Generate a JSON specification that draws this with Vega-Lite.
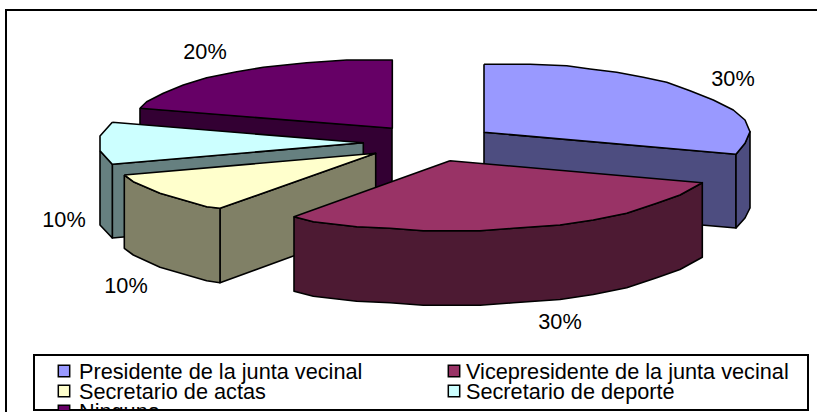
{
"$schema":"https://vega.github.io/schema/vega-lite/v6.json",
"width":817,"height":410,"padding":{"left":0,"top":0,"right":0,"bottom":2},"autosize":{"type":"none"},
"background":"white","config":{"view":{"stroke":null}},
"datasets":{
"faces":[
{"face":"N side","tone":"N side","i":1,"x":140,"y":108},{"face":"N side","tone":"N side","i":2,"x":392,"y":128},{"face":"N side","tone":"N side","i":3,"x":392,"y":201},{"face":"N side","tone":"N side","i":4,"x":140,"y":181},{"face":"N side","tone":"N side","i":5,"x":140,"y":108},
{"face":"N top","tone":"N top","i":1,"x":140,"y":108.3},{"face":"N top","tone":"N top","i":2,"x":146.7,"y":101.7},{"face":"N top","tone":"N top","i":3,"x":163.3,"y":93.3},{"face":"N top","tone":"N top","i":4,"x":183.3,"y":85},{"face":"N top","tone":"N top","i":5,"x":206.7,"y":77.7},{"face":"N top","tone":"N top","i":6,"x":236.7,"y":71.7},{"face":"N top","tone":"N top","i":7,"x":263.3,"y":67.3},{"face":"N top","tone":"N top","i":8,"x":306.7,"y":62.7},{"face":"N top","tone":"N top","i":9,"x":346.7,"y":60},{"face":"N top","tone":"N top","i":10,"x":392.3,"y":60},{"face":"N top","tone":"N top","i":11,"x":392.3,"y":128.3},{"face":"N top","tone":"N top","i":12,"x":140,"y":108.3},
{"face":"P front","tone":"P side","i":1,"x":484,"y":132.3},{"face":"P front","tone":"P side","i":2,"x":736,"y":154.3},{"face":"P front","tone":"P side","i":3,"x":736,"y":228},{"face":"P front","tone":"P side","i":4,"x":484,"y":206},{"face":"P front","tone":"P side","i":5,"x":484,"y":132.3},
{"face":"P right","tone":"P side","i":1,"x":736,"y":154.3},{"face":"P right","tone":"P side","i":2,"x":745,"y":143.3},{"face":"P right","tone":"P side","i":3,"x":750,"y":131.7},{"face":"P right","tone":"P side","i":4,"x":750,"y":208},{"face":"P right","tone":"P side","i":5,"x":745,"y":218},{"face":"P right","tone":"P side","i":6,"x":736,"y":228},{"face":"P right","tone":"P side","i":7,"x":736,"y":154.3},
{"face":"P top","tone":"P top","i":1,"x":484,"y":64.3},{"face":"P top","tone":"P top","i":2,"x":530,"y":64.3},{"face":"P top","tone":"P top","i":3,"x":566.7,"y":65.7},{"face":"P top","tone":"P top","i":4,"x":590,"y":69},{"face":"P top","tone":"P top","i":5,"x":616.7,"y":72.3},{"face":"P top","tone":"P top","i":6,"x":643.3,"y":77.3},{"face":"P top","tone":"P top","i":7,"x":666.7,"y":82.3},{"face":"P top","tone":"P top","i":8,"x":690,"y":90.7},{"face":"P top","tone":"P top","i":9,"x":713.3,"y":100},{"face":"P top","tone":"P top","i":10,"x":733.3,"y":110},{"face":"P top","tone":"P top","i":11,"x":745,"y":120},{"face":"P top","tone":"P top","i":12,"x":750,"y":131.7},{"face":"P top","tone":"P top","i":13,"x":745,"y":143.3},{"face":"P top","tone":"P top","i":14,"x":736,"y":154.3},{"face":"P top","tone":"P top","i":15,"x":484,"y":132.3},{"face":"P top","tone":"P top","i":16,"x":484,"y":64.3},
{"face":"D front","tone":"D side","i":1,"x":112.3,"y":164.3},{"face":"D front","tone":"D side","i":2,"x":363.3,"y":142.7},{"face":"D front","tone":"D side","i":3,"x":363.3,"y":215},{"face":"D front","tone":"D side","i":4,"x":112.3,"y":238},{"face":"D front","tone":"D side","i":5,"x":112.3,"y":164.3},
{"face":"D left","tone":"D side","i":1,"x":100,"y":150.7},{"face":"D left","tone":"D side","i":2,"x":112.3,"y":164.3},{"face":"D left","tone":"D side","i":3,"x":112.3,"y":238},{"face":"D left","tone":"D side","i":4,"x":100,"y":225},{"face":"D left","tone":"D side","i":5,"x":100,"y":150.7},
{"face":"D top","tone":"D top","i":1,"x":112.3,"y":122.3},{"face":"D top","tone":"D top","i":2,"x":100,"y":136},{"face":"D top","tone":"D top","i":3,"x":100,"y":150.7},{"face":"D top","tone":"D top","i":4,"x":112.3,"y":164.3},{"face":"D top","tone":"D top","i":5,"x":363.3,"y":142.7},{"face":"D top","tone":"D top","i":6,"x":356.7,"y":142.3},{"face":"D top","tone":"D top","i":7,"x":112.3,"y":122.3},
{"face":"A right","tone":"A side","i":1,"x":220,"y":208.3},{"face":"A right","tone":"A side","i":2,"x":375.7,"y":153.3},{"face":"A right","tone":"A side","i":3,"x":375.7,"y":226},{"face":"A right","tone":"A side","i":4,"x":220,"y":282.7},{"face":"A right","tone":"A side","i":5,"x":220,"y":208.3},
{"face":"A left","tone":"A side","i":1,"x":124.3,"y":175},{"face":"A left","tone":"A side","i":2,"x":133.3,"y":181.7},{"face":"A left","tone":"A side","i":3,"x":160,"y":193.3},{"face":"A left","tone":"A side","i":4,"x":206.7,"y":206.7},{"face":"A left","tone":"A side","i":5,"x":220,"y":208.3},{"face":"A left","tone":"A side","i":6,"x":220,"y":282.7},{"face":"A left","tone":"A side","i":7,"x":206.7,"y":280.7},{"face":"A left","tone":"A side","i":8,"x":160,"y":267.3},{"face":"A left","tone":"A side","i":9,"x":133.3,"y":255},{"face":"A left","tone":"A side","i":10,"x":124.3,"y":248.3},{"face":"A left","tone":"A side","i":11,"x":124.3,"y":175},
{"face":"A top","tone":"A top","i":1,"x":124.3,"y":175},{"face":"A top","tone":"A top","i":2,"x":133.3,"y":181.7},{"face":"A top","tone":"A top","i":3,"x":160,"y":193.3},{"face":"A top","tone":"A top","i":4,"x":206.7,"y":206.7},{"face":"A top","tone":"A top","i":5,"x":220,"y":208.3},{"face":"A top","tone":"A top","i":6,"x":375.7,"y":153.3},{"face":"A top","tone":"A top","i":7,"x":124.3,"y":175},
{"face":"V front","tone":"V side","i":1,"x":294,"y":216.7},{"face":"V front","tone":"V side","i":2,"x":313.3,"y":221.7},{"face":"V front","tone":"V side","i":3,"x":356.7,"y":226.7},{"face":"V front","tone":"V side","i":4,"x":390,"y":228.3},{"face":"V front","tone":"V side","i":5,"x":423.3,"y":230.7},{"face":"V front","tone":"V side","i":6,"x":480,"y":230.7},{"face":"V front","tone":"V side","i":7,"x":513.3,"y":228.3},{"face":"V front","tone":"V side","i":8,"x":560,"y":225},{"face":"V front","tone":"V side","i":9,"x":593.3,"y":220},{"face":"V front","tone":"V side","i":10,"x":626.7,"y":213.3},{"face":"V front","tone":"V side","i":11,"x":656.7,"y":203.3},{"face":"V front","tone":"V side","i":12,"x":680,"y":195},{"face":"V front","tone":"V side","i":13,"x":702.3,"y":182.7},{"face":"V front","tone":"V side","i":14,"x":702.3,"y":257.3},{"face":"V front","tone":"V side","i":15,"x":680,"y":269.5},{"face":"V front","tone":"V side","i":16,"x":656.7,"y":277.8},{"face":"V front","tone":"V side","i":17,"x":626.7,"y":287.8},{"face":"V front","tone":"V side","i":18,"x":593.3,"y":294.5},{"face":"V front","tone":"V side","i":19,"x":560,"y":299.5},{"face":"V front","tone":"V side","i":20,"x":513.3,"y":302.8},{"face":"V front","tone":"V side","i":21,"x":480,"y":305.2},{"face":"V front","tone":"V side","i":22,"x":423.3,"y":305.2},{"face":"V front","tone":"V side","i":23,"x":390,"y":302.8},{"face":"V front","tone":"V side","i":24,"x":356.7,"y":301.2},{"face":"V front","tone":"V side","i":25,"x":313.3,"y":296.2},{"face":"V front","tone":"V side","i":26,"x":294,"y":291.2},{"face":"V front","tone":"V side","i":27,"x":294,"y":216.7},
{"face":"V top","tone":"V top","i":1,"x":450,"y":160.7},{"face":"V top","tone":"V top","i":2,"x":294,"y":216.7},{"face":"V top","tone":"V top","i":3,"x":313.3,"y":221.7},{"face":"V top","tone":"V top","i":4,"x":356.7,"y":226.7},{"face":"V top","tone":"V top","i":5,"x":390,"y":228.3},{"face":"V top","tone":"V top","i":6,"x":423.3,"y":230.7},{"face":"V top","tone":"V top","i":7,"x":480,"y":230.7},{"face":"V top","tone":"V top","i":8,"x":513.3,"y":228.3},{"face":"V top","tone":"V top","i":9,"x":560,"y":225},{"face":"V top","tone":"V top","i":10,"x":593.3,"y":220},{"face":"V top","tone":"V top","i":11,"x":626.7,"y":213.3},{"face":"V top","tone":"V top","i":12,"x":656.7,"y":203.3},{"face":"V top","tone":"V top","i":13,"x":680,"y":195},{"face":"V top","tone":"V top","i":14,"x":702.3,"y":182.7},{"face":"V top","tone":"V top","i":15,"x":450,"y":160.7}
],
"labels":[
{"pct":"30%","x":733,"y":86},{"pct":"30%","x":560,"y":329},{"pct":"10%","x":126,"y":293},{"pct":"10%","x":64,"y":227},{"pct":"20%","x":205,"y":59}
],
"legend":[
{"name":"Presidente de la junta vecinal","tone":"P top","sx":64,"tx":79,"y":371,"by":379},
{"name":"Vicepresidente de la junta vecinal","tone":"V top","sx":454,"tx":466,"y":371,"by":379},
{"name":"Secretario de actas","tone":"A top","sx":64,"tx":79,"y":391,"by":399},
{"name":"Secretario de deporte","tone":"D top","sx":454,"tx":466,"y":391,"by":399},
{"name":"Ninguno","tone":"N top","sx":64,"tx":79,"y":411,"by":419}
],
"box":[{"x":34,"x2":808,"y":355,"y2":410}],
"frame":[{"i":1,"x":6,"y":412},{"i":2,"x":6,"y":10},{"i":3,"x":817,"y":10}]
},
"layer":[
{"data":{"name":"frame"},"mark":{"type":"line","stroke":"black","strokeWidth":2,"clip":false},
"encoding":{"x":{"field":"x","type":"quantitative","axis":null,"scale":{"domain":[0,817],"nice":false,"zero":false}},"y":{"field":"y","type":"quantitative","axis":null,"scale":{"domain":[410,0],"nice":false,"zero":false}},"order":{"field":"i","type":"quantitative"}}},
{"data":{"name":"faces"},"mark":{"type":"line","stroke":"black","strokeWidth":1.6,"strokeJoin":"round"},
"encoding":{"x":{"field":"x","type":"quantitative"},"y":{"field":"y","type":"quantitative"},"detail":{"field":"face"},"order":{"field":"i","type":"quantitative"},
"fill":{"field":"tone","type":"nominal","legend":null,"scale":{"domain":["P top","P side","V top","V side","A top","A side","D top","D side","N top","N side"],"range":["#9999FF","#4D4D80","#993366","#4D1A33","#FFFFCC","#808066","#CCFFFF","#668080","#660066","#330033"]}}}},
{"data":{"name":"labels"},"mark":{"type":"text","font":"Liberation Sans","fontSize":21.7,"align":"center","baseline":"alphabetic","color":"black"},
"encoding":{"x":{"field":"x","type":"quantitative"},"y":{"field":"y","type":"quantitative"},"text":{"field":"pct"}}},
{"data":{"name":"box"},"mark":{"type":"rect","fill":"white","stroke":"black","strokeWidth":2},
"encoding":{"x":{"field":"x","type":"quantitative"},"x2":{"field":"x2"},"y":{"field":"y","type":"quantitative"},"y2":{"field":"y2"}}},
{"data":{"name":"legend"},"mark":{"type":"point","shape":"square","filled":true,"stroke":"black","strokeWidth":1.5,"size":130,"opacity":1,"clip":true},
"encoding":{"x":{"field":"sx","type":"quantitative"},"y":{"field":"y","type":"quantitative"},"fill":{"field":"tone","type":"nominal","legend":null}}},
{"data":{"name":"legend"},"mark":{"type":"text","font":"Liberation Sans","fontSize":21.7,"align":"left","baseline":"alphabetic","color":"black","clip":true},
"encoding":{"x":{"field":"tx","type":"quantitative"},"y":{"field":"by","type":"quantitative"},"text":{"field":"name"}}}
]
}
